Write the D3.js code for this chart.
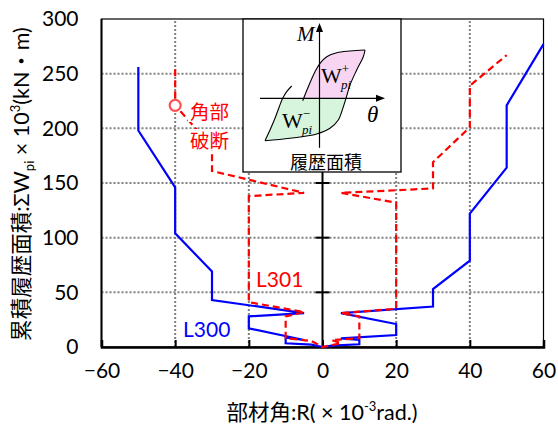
<!DOCTYPE html>
<html><head><meta charset="utf-8">
<script src="https://cdn.jsdelivr.net/npm/d3@7"></script>
<style>
html,body{margin:0;padding:0;background:#fff;}
svg{display:block;}
</style></head>
<body>
<svg id="chart" width="558" height="428"></svg>
<script>
// Axis ticks
const xTicks = [-60, -40, -20, 0, 20, 40, 60];
const yTicks = [0, 50, 100, 150, 200, 250, 300];

// L300: member rotation R (×10^-3 rad) against cumulative hysteresis energy ΣWpi (×10^3 kN·m)
const l300R = [-50, -50, -40, -40, -30, -30, -5, -20, -20, -5, -10, -10, -3, 0, 2.5, 10, 10, 5, 20, 20, 5, 30, 30, 40, 40, 50, 50, 60];
const l300W = [256, 198, 146, 104, 69, 43, 31, 28, 17, 6.4, 8.5, 3.4, 2.2, 0, 1.2, 2.5, 6.4, 7.9, 11, 21, 31, 37, 53, 79, 122, 164, 221, 277];

// L301
const l301R = [-40, -40, -30, -30, -5, -20, -20, -5, -10, -10, -3, 0, 5, 2.5, 10, 10, 5, 20, 20, 5, 30, 30, 40, 40, 50];
const l301W = [254, 221, 183, 161, 141, 138, 41, 32, 28, 8, 5.5, 0, 3.4, 6.4, 8, 28, 31, 35, 132, 141, 145, 169, 201, 239, 267];

// Corner fracture point of L301
const fractureR = -40, fractureW = 221;

// Schematic hysteresis loop (θ, M) for the inset
const loopUpper = [[-0.336, -0.048], [-0.224, 0.232], [-0.09, 0.532], [0.01, 0.70], [0.144, 0.832], [0.344, 0.912], [0.61, 0.946], [0.91, 0.966]];
const loopRight = [[0.91, 0.966], [0.876, 0.832], [0.744, 0.566], [0.61, 0.266], [0.53, 0], [0.444, -0.268], [0.376, -0.434], [0.21, -0.6], [-0.056, -0.714], [-0.59, -0.8], [-1.09, -0.848]];
const loopLeft = [[-1.09, -0.848], [-0.99, -0.634], [-0.89, -0.4], [-0.804, -0.168], [-0.736, 0], [-0.656, 0.132], [-0.556, 0.246]];

const svg = d3.select("#chart");
const latin = "Lato, 'Noto Sans CJK JP', sans-serif";
const cjk = "'Noto Sans CJK JP', sans-serif";
const serif = "'Liberation Serif', 'DejaVu Serif', serif";

const x = d3.scaleLinear().domain([-60, 60]).range([101.5, 543.5]);
const y = d3.scaleLinear().domain([0, 300]).range([347, 19]);

const defs = svg.append("defs");
defs.append("filter").attr("id", "soft").append("feGaussianBlur").attr("stdDeviation", 0.6);

// grid
const grid = svg.append("g").attr("stroke", "#808080").attr("stroke-width", 2).attr("stroke-dasharray", "2,2");
grid.selectAll("line.h").data(yTicks.filter(v => v > 0 && v < 300)).join("line")
  .attr("x1", x(-60)).attr("x2", x(60)).attr("y1", d => y(d)).attr("y2", d => y(d));
grid.selectAll("line.v").data(xTicks.filter(v => v !== 0 && Math.abs(v) < 60)).join("line")
  .attr("y1", y(0)).attr("y2", y(300)).attr("x1", d => x(d)).attr("x2", d => x(d));

// frame
svg.append("rect").attr("x", x(-60)).attr("y", y(300)).attr("width", x(60) - x(-60)).attr("height", y(0) - y(300))
  .attr("fill", "none").attr("stroke", "#000").attr("stroke-width", 1.2);
svg.append("line").attr("x1", x(-60)).attr("x2", x(-60)).attr("y1", y(300)).attr("y2", y(0)).attr("stroke", "#000").attr("stroke-width", 2);

// centre line at R = 0 with its ticks
svg.append("line").attr("x1", x(0)).attr("x2", x(0)).attr("y1", y(300)).attr("y2", y(0)).attr("stroke", "#000").attr("stroke-width", 2);
svg.append("g").selectAll("line").data(yTicks.filter(v => v > 0 && v < 300)).join("line")
  .attr("x1", x(0) - 7).attr("x2", x(0) + 7).attr("y1", d => y(d)).attr("y2", d => y(d))
  .attr("stroke", "#000").attr("stroke-width", 2);

// bottom axis
const xAxis = svg.append("g").attr("transform", `translate(0,${y(0)})`)
  .call(d3.axisBottom(x).tickValues(xTicks).tickSize(-7).tickPadding(16).tickFormat(d => d < 0 ? "\u2212" + Math.abs(d) : d));
xAxis.select(".domain").attr("stroke", "#000").attr("stroke-width", 2.5);
xAxis.selectAll(".tick line").attr("stroke", "#000").attr("stroke-width", 2);
xAxis.selectAll(".tick text").attr("font-family", latin).attr("font-size", 21).attr("fill", "#000");

// left axis labels
const yAxis = svg.append("g").attr("transform", `translate(${x(-60)},0)`)
  .call(d3.axisLeft(y).tickValues(yTicks).tickSize(0).tickPadding(23));
yAxis.select(".domain").remove();
yAxis.selectAll(".tick text").attr("font-family", latin).attr("font-size", 21).attr("fill", "#000");

// data lines
const line = d3.line().x(d => x(d[0])).y(d => y(d[1]));
const l300 = l300R.map((r, i) => [r, l300W[i]]);
const l301 = l301R.map((r, i) => [r, l301W[i]]);
svg.append("path").attr("d", line(l300)).attr("fill", "none").attr("stroke", "#0000ff").attr("stroke-width", 2.2).attr("stroke-linejoin", "miter");
svg.append("path").attr("d", line(l301)).attr("fill", "none").attr("stroke", "#ff0000").attr("stroke-width", 2.2).attr("stroke-dasharray", "7,4");

// fracture marker and note
svg.append("circle").attr("cx", x(fractureR)).attr("cy", y(fractureW)).attr("r", 5.5)
  .attr("fill", "#fff").attr("stroke", "#ff5050").attr("stroke-width", 2.2).attr("filter", "url(#soft)");
const note = svg.append("g");
note.append("rect").attr("x", 188).attr("y", 100).attr("width", 45).attr("height", 22).attr("fill", "#fff");
note.append("rect").attr("x", 188).attr("y", 129).attr("width", 45).attr("height", 21).attr("fill", "#fff");
const noteText = note.append("text").attr("font-family", cjk).attr("font-size", 19.5).attr("fill", "#ff0000");
noteText.append("tspan").attr("x", 190).attr("y", 119).text("角部");
noteText.append("tspan").attr("x", 190).attr("y", 147.5).text("破断");

// series labels
svg.append("text").attr("x", 256).attr("y", 287).attr("font-family", latin).attr("font-size", 21).attr("fill", "#ff0000").text("L301");
svg.append("text").attr("x", 183).attr("y", 337).attr("font-family", latin).attr("font-size", 21).attr("fill", "#0000ff").text("L300");

// inset: hysteresis loop definition
const box = {x0: 243, x1: 401, y0: 19, y1: 172};
const inset = svg.append("g");
inset.append("rect").attr("x", box.x0).attr("y", box.y0).attr("width", box.x1 - box.x0).attr("height", box.y1 - box.y0)
  .attr("fill", "#fff").attr("stroke", "#000").attr("stroke-width", 1.3);
const ix = d3.scaleLinear().domain([-1, 1]).range([269.5, 369.5]);
const iy = d3.scaleLinear().domain([-1, 1]).range([148.3, 48.3]);
const curve = d3.line().x(d => ix(d[0])).y(d => iy(d[1])).curve(d3.curveCatmullRom);

defs.append("clipPath").attr("id", "above").append("rect")
  .attr("x", box.x0).attr("y", box.y0).attr("width", box.x1 - box.x0).attr("height", iy(0) - box.y0);
defs.append("clipPath").attr("id", "below").append("rect")
  .attr("x", box.x0).attr("y", iy(0)).attr("width", box.x1 - box.x0).attr("height", box.y1 - iy(0));

inset.append("path").attr("d", curve(loopUpper) + "L" + curve(loopRight.slice(0, 6)).slice(1) + "Z")
  .attr("fill", "#f8d6f3").attr("clip-path", "url(#above)");
inset.append("path").attr("d", curve(loopRight.slice(4)) + "L" + curve(loopLeft).slice(1) + "Z")
  .attr("fill", "#d6f5dc").attr("clip-path", "url(#below)");

// inset axes with arrowheads
inset.append("line").attr("x1", ix(-1.19)).attr("x2", ix(1.25)).attr("y1", iy(0)).attr("y2", iy(0)).attr("stroke", "#000").attr("stroke-width", 1.2);
inset.append("line").attr("x1", ix(0)).attr("x2", ix(0)).attr("y1", iy(-0.99)).attr("y2", iy(1.45)).attr("stroke", "#000").attr("stroke-width", 1.2);
inset.append("path").attr("d", `M${ix(1.31)},${iy(0)}L${ix(1.31) - 9},${iy(0) - 3.5}L${ix(1.31) - 9},${iy(0) + 3.5}Z`).attr("fill", "#000");
inset.append("path").attr("d", `M${ix(0)},${iy(1.506)}L${ix(0) - 3.5},${iy(1.506) + 9}L${ix(0) + 3.5},${iy(1.506) + 9}Z`).attr("fill", "#000");

[loopUpper, loopRight, loopLeft].forEach(seg =>
  inset.append("path").attr("d", curve(seg)).attr("fill", "none").attr("stroke", "#000").attr("stroke-width", 1.1));

inset.append("text").attr("x", 297).attr("y", 41).attr("font-family", serif).attr("font-style", "italic").attr("font-size", 21).text("M");
inset.append("text").attr("x", 367).attr("y", 122).attr("font-family", serif).attr("font-style", "italic").attr("font-size", 23).text("θ");

function wLabel(x0, base, sign) {
  const t = inset.append("text").attr("x", x0).attr("y", base).attr("font-family", serif).attr("font-size", 22);
  t.append("tspan").text("W");
  t.append("tspan").attr("font-size", 13).attr("dy", -10).text(sign);
  t.append("tspan").attr("font-size", 13).attr("font-style", "italic").attr("dx", -8).attr("dy", 16).text("pi");
}
wLabel(321, 83, "+");
wLabel(282, 127.5, "\u2212");

inset.append("text").attr("x", 326).attr("y", 161).attr("text-anchor", "middle").attr("dominant-baseline", "central")
  .attr("font-family", cjk).attr("font-size", 18).text("履歴面積");

// axis titles
const xt = svg.append("text").attr("x", 322).attr("y", 420).attr("text-anchor", "middle").attr("font-family", latin).attr("font-size", 21.5);
xt.append("tspan").text("部材角:R( × 10");
xt.append("tspan").attr("font-size", 13).attr("dy", -9).text("-3");
xt.append("tspan").attr("dy", 9).text("rad.)");

const yt = svg.append("text").attr("transform", "translate(29,184) rotate(-90)").attr("text-anchor", "middle").attr("font-family", latin).attr("font-size", 21.5);
yt.append("tspan").text("累積履歴面積:ΣW");
yt.append("tspan").attr("font-size", 13).attr("dy", 5).text("pi");
yt.append("tspan").attr("dy", -5).text(" × 10");
yt.append("tspan").attr("font-size", 13).attr("dy", -9).text("3");
yt.append("tspan").attr("dy", 9).text("(kN・m)");
</script>
</body></html>
